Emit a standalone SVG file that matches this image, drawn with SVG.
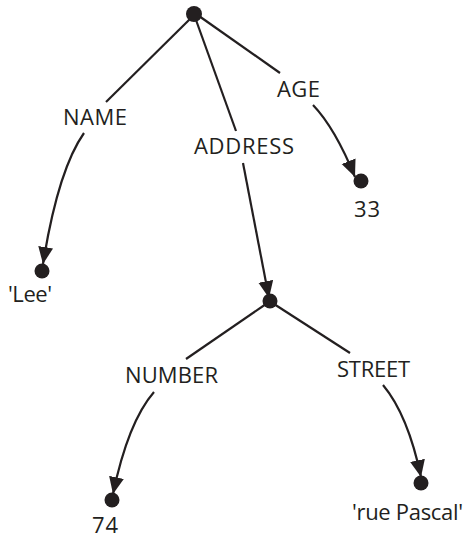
<svg xmlns="http://www.w3.org/2000/svg" width="468" height="538" viewBox="0 0 468 538">
<defs>
<style>
.e{fill:none;stroke:#231f20;stroke-width:2.2}
.n{fill:#231f20}
.t{font-family:"Open Sans","Liberation Sans",sans-serif;font-size:22px;fill:#231f20}
</style>
<marker id="ah" markerUnits="userSpaceOnUse" markerWidth="18" markerHeight="16" refX="17" refY="7.5" orient="auto">
<path d="M0,0 L17,7.5 L0,15 Z" fill="#231f20"/>
</marker>
</defs>
<rect width="468" height="538" fill="#fff"/>
<g id="connectors">
<path class="e" d="M190,19 L106,102"/>
<path class="e" d="M84,133 Q58,170 43,264" marker-end="url(#ah)"/>
<path class="e" d="M196,20 L236,131"/>
<path class="e" d="M243,163 L269,298" marker-end="url(#ah)"/>
<path class="e" d="M199,16 L280,73"/>
<path class="e" d="M313,105 Q335,128 355,177" marker-end="url(#ah)"/>
<path class="e" d="M266,304 L186,359"/>
<path class="e" d="M154,392 Q128,422 113,494" marker-end="url(#ah)"/>
<path class="e" d="M274,304 L350,353"/>
<path class="e" d="M383,385 Q408,415 421,477" marker-end="url(#ah)"/>
</g>
<g id="root"><circle class="n" cx="194" cy="14" r="8"/></g>
<g id="lee"><circle class="n" cx="42" cy="271" r="7.5"/><text class="t" x="8" y="302" textLength="44">'Lee'</text></g>
<g id="age-val"><circle class="n" cx="361" cy="181" r="7.5"/><text class="t" x="354" y="217" textLength="26">33</text></g>
<g id="address-node"><circle class="n" cx="270" cy="301" r="7.5"/></g>
<g id="num-val"><circle class="n" cx="112" cy="500" r="7.5"/><text class="t" x="92" y="533" textLength="26">74</text></g>
<g id="street-val"><circle class="n" cx="421" cy="483" r="7.5"/><text class="t" x="352" y="520" textLength="111">'rue Pascal'</text></g>
<g id="labels">
<text class="t" x="63" y="125" textLength="64">NAME</text>
<text class="t" x="194" y="154" textLength="100">ADDRESS</text>
<text class="t" x="277" y="97" textLength="43">AGE</text>
<text class="t" x="125" y="383" textLength="93">NUMBER</text>
<text class="t" x="337" y="377" textLength="73">STREET</text>
</g>
</svg>
